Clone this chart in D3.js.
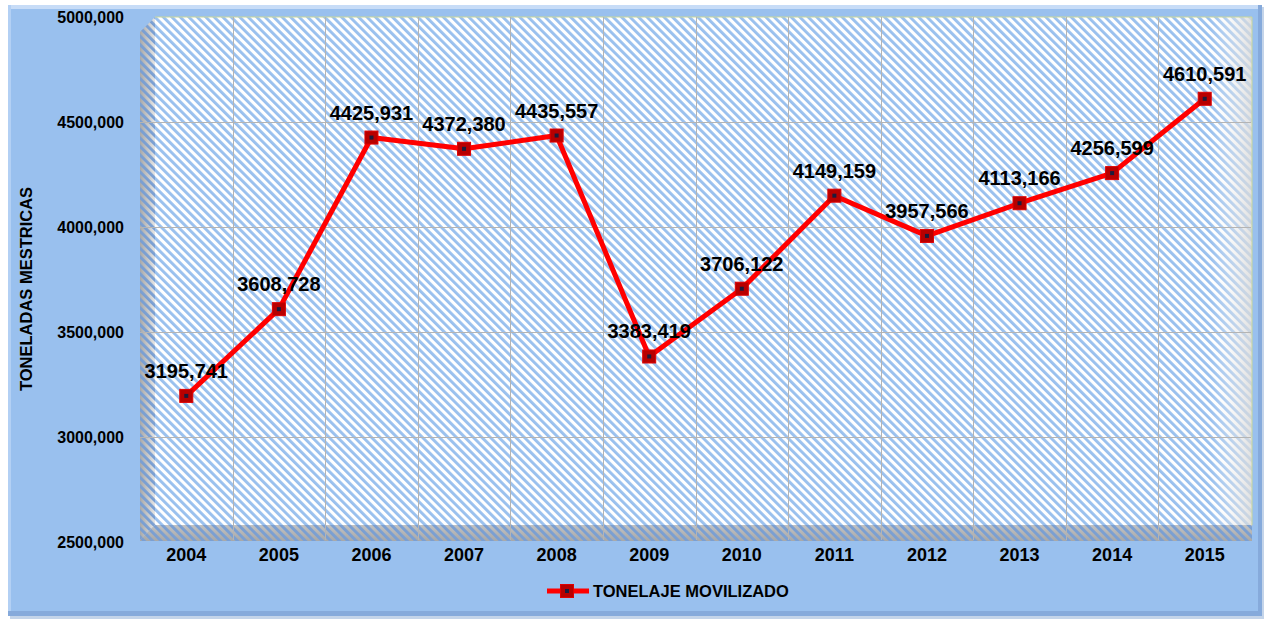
<!DOCTYPE html>
<html><head><meta charset="utf-8">
<script src="https://cdn.jsdelivr.net/npm/d3@7"></script>
<style>
body{margin:0;background:#fff}
svg{display:block}
text{font-family:"Liberation Sans",Arial,sans-serif;font-weight:bold;fill:#000}
</style>
</head><body>
<svg id="c" width="1268" height="622"></svg>
<script>
const years = ["2004","2005","2006","2007","2008","2009","2010","2011","2012","2013","2014","2015"];
const values = [3195741,3608728,4425931,4372380,4435557,3383419,3706122,4149159,3957566,4113166,4256599,4610591];
const yTicks = [2500000,3000000,3500000,4000000,4500000,5000000];
const seriesName = "TONELAJE MOVILIZADO";
const yTitle = "TONELADAS MESTRICAS";

const fmt = v => Math.floor(v/1000) + "," + String(v%1000).padStart(3,"0");

const svg = d3.select("#c");
const defs = svg.append("defs");

function hatch(id, color, bg){
  const p = defs.append("pattern").attr("id",id).attr("patternUnits","userSpaceOnUse")
    .attr("width",6).attr("height",6).attr("patternTransform","rotate(-45)");
  if(bg) p.append("rect").attr("width",6).attr("height",6).attr("fill",bg);
  p.append("rect").attr("x",0).attr("y",0).attr("width",2.9).attr("height",6).attr("fill",color);
}
hatch("hWall","#99c0ee","#ffffff");
hatch("hSide","#7a9fd2",null);

const gSide = defs.append("linearGradient").attr("id","gSide").attr("x1",0).attr("x2",1).attr("y1",0).attr("y2",0);
gSide.append("stop").attr("offset",0).attr("stop-color","#a9a9a9");
gSide.append("stop").attr("offset",1).attr("stop-color","#e6e6e6");
const gFloor = defs.append("linearGradient").attr("id","gFloor").attr("x1",0).attr("x2",0).attr("y1",0).attr("y2",1);
gFloor.append("stop").attr("offset",0).attr("stop-color","#c2c2c2");
gFloor.append("stop").attr("offset",1).attr("stop-color","#a8a8a8");
const gRight = defs.append("linearGradient").attr("id","gRight").attr("x1",0).attr("x2",1);
gRight.append("stop").attr("offset",0).attr("stop-color","#ffffff").attr("stop-opacity",0);
gRight.append("stop").attr("offset",1).attr("stop-color","#d8d8d8").attr("stop-opacity",0.8);

// outer panel
svg.append("rect").attr("x",10).attr("y",7).attr("width",1254).attr("height",612).attr("fill","#8aa9d4").attr("opacity",0.5);
svg.append("rect").attr("x",8).attr("y",5).attr("width",1254).attr("height",611).attr("fill","#99c0ee");
svg.append("rect").attr("x",8).attr("y",5).attr("width",1254).attr("height",4).attr("fill","#c7dcf7");
svg.append("rect").attr("x",8).attr("y",5).attr("width",3).attr("height",611).attr("fill","#b3d0f4");
svg.append("rect").attr("x",1258).attr("y",5).attr("width",4).attr("height",611).attr("fill","#86aadb");
svg.append("rect").attr("x",8).attr("y",611).attr("width",1254).attr("height",5).attr("fill","#86aadb");

const x = d3.scaleBand().domain(years).range([140,1251]);
const y = d3.scaleLinear().domain([2500000,5000000]).range([542,17]);

const L=140, R=1251, D=15, T=17, B=540;
// back wall
svg.append("rect").attr("x",L+D).attr("y",T).attr("width",R-L-D+1).attr("height",B-T).attr("fill","url(#hWall)");
svg.append("rect").attr("x",R-40).attr("y",T).attr("width",41).attr("height",B-T).attr("fill","url(#gRight)");
// left wall
const side = `M${L},${T+D}L${L+D},${T}L${L+D},${B-D}L${L},${B}Z`;
svg.append("path").attr("d",side).attr("fill","url(#gSide)");
svg.append("path").attr("d",side).attr("fill","url(#hSide)");
// floor
const floor = `M${L},${B}L${L+D},${B-D}L${R+1},${B-D}L${R+1},${B+1}L${L},${B+1}Z`;
svg.append("path").attr("d",floor).attr("fill","url(#gFloor)");
svg.append("path").attr("d",floor).attr("fill","url(#hSide)");
// wall border
svg.append("path").attr("d",`M${L+D},${T}H${R+1}V${B-D}`).attr("fill","none").attr("stroke","#c9d79a").attr("stroke-width",1);

// gridlines
svg.append("g").selectAll("line").data(yTicks.slice(1,-1)).join("line")
  .attr("x1",L).attr("x2",R).attr("y1",d=>Math.round(y(d))+0.5).attr("y2",d=>Math.round(y(d))+0.5)
  .attr("stroke","#b4b4b4").attr("stroke-width",1);
svg.append("g").selectAll("line").data(years.slice(1)).join("line")
  .attr("x1",d=>Math.round(x(d))+0.5).attr("x2",d=>Math.round(x(d))+0.5).attr("y1",T).attr("y2",B)
  .attr("stroke","#b4b4b4").attr("stroke-width",1);

// axes
const ya = svg.append("g").attr("transform","translate(124,0)")
  .call(d3.axisLeft(y).tickValues(yTicks).tickSize(0).tickPadding(0).tickFormat(fmt));
ya.select(".domain").remove();
ya.selectAll("text").attr("font-size",16).attr("font-family","Liberation Sans").attr("font-weight","bold").attr("fill","#000").attr("dy","0.35em");

const xa = svg.append("g").attr("transform","translate(0,548)")
  .call(d3.axisBottom(x).tickSize(0).tickPadding(0));
xa.select(".domain").remove();
xa.selectAll("text").attr("font-size",18).attr("font-family","Liberation Sans").attr("font-weight","bold").attr("fill","#000").attr("dy","0.71em");

svg.append("text").attr("transform","translate(32,289) rotate(-90)").attr("text-anchor","middle")
  .attr("font-size",16.5).text(yTitle);

// series
const pts = years.map((yr,i)=>({yr, v:values[i]}));
svg.append("path").datum(pts)
  .attr("d", d3.line().x(d=>x(d.yr)+x.bandwidth()/2).y(d=>y(d.v)))
  .attr("fill","none").attr("stroke","#ff0000").attr("stroke-width",5).attr("stroke-linejoin","round");

function marker(g){
  g.append("rect").attr("x",-6.5).attr("y",-6.5).attr("width",13).attr("height",13)
    .attr("fill","#b80000").attr("stroke","#e00000").attr("stroke-width",1);
  g.append("rect").attr("x",-2).attr("y",-2).attr("width",4).attr("height",4).attr("fill","#1c1c3c");
}
svg.append("g").selectAll("g").data(pts).join("g")
  .attr("transform",d=>`translate(${x(d.yr)+x.bandwidth()/2},${y(d.v)})`)
  .each(function(){ marker(d3.select(this)); });

svg.append("g").selectAll("text").data(pts).join("text")
  .attr("x",d=>x(d.yr)+x.bandwidth()/2).attr("y",d=>y(d.v)-18)
  .attr("text-anchor","middle").attr("font-size",20).text(d=>fmt(d.v));

// legend
const lg = svg.append("g").attr("transform","translate(0,591)");
lg.append("line").attr("x1",547).attr("x2",589).attr("y1",0).attr("y2",0).attr("stroke","#ff0000").attr("stroke-width",5);
marker(lg.append("g").attr("transform","translate(567,0)"));
lg.append("text").attr("x",593).attr("y",6).attr("font-size",16.5).text(seriesName);
</script>
</body></html>
